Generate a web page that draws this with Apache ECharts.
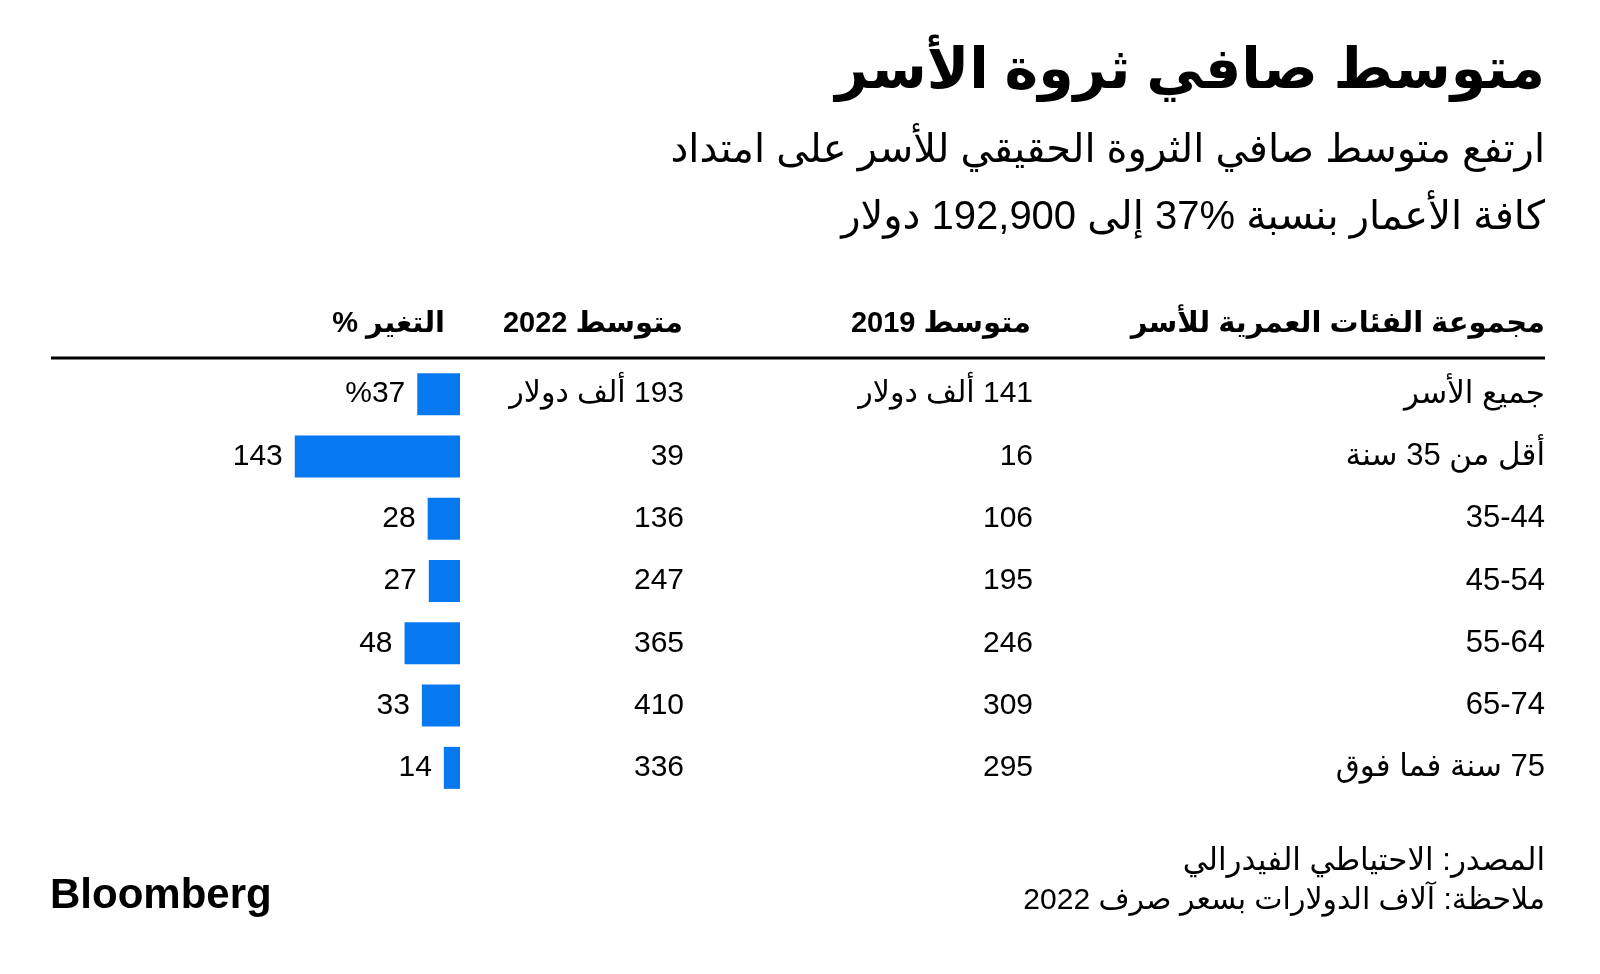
<!DOCTYPE html>
<html>
<head>
<meta charset="utf-8">
<script src="https://cdn.jsdelivr.net/npm/echarts@6/dist/echarts.min.js"></script>
<style>
html,body{margin:0;padding:0;background:#fff;}
#chart{width:1600px;height:974px;direction:rtl;}
</style>
</head>
<body>
<div id="chart"></div>
<script>
const title = 'متوسط صافي ثروة الأسر';
const subtitleLines = ['ارتفع متوسط صافي الثروة الحقيقي للأسر على امتداد', 'كافة الأعمار بنسبة %37 إلى 192,900 دولار'];
const headers = ['مجموعة الفئات العمرية للأسر', 'متوسط 2019', 'متوسط 2022', 'التغير %'];
const groups = ['جميع الأسر', 'أقل من 35 سنة', '35-44', '45-54', '55-64', '65-74', '75 سنة فما فوق'];
const median2019 = ['141 ألف دولار', '16', '106', '195', '246', '309', '295'];
const median2022 = ['193 ألف دولار', '39', '136', '247', '365', '410', '336'];
const pctChange = [37, 143, 28, 27, 48, 33, 14];
const footerLines = ['المصدر: الاحتياطي الفيدرالي', 'ملاحظة: آلاف الدولارات بسعر صرف 2022'];
const brand = 'Bloomberg';

const FONT = '"Liberation Sans", "DejaVu Sans", sans-serif';
const BLUE = '#0679f0';
const chart = echarts.init(document.getElementById('chart'), null, {renderer: 'canvas'});

const gridRight = 1140; // bar baseline at x=460
function colAxis(data, offset, size) {
  return {
    type: 'category', data: data, inverse: true, position: 'right', offset: offset,
    axisLine: {show: false}, axisTick: {show: false}, splitLine: {show: false},
    axisLabel: {show: true, margin: 0, align: 'right', fontSize: size, color: '#000', fontFamily: FONT}
  };
}
function txt(text, x, y, size, weight, align) {
  return {type: 'text', x: x, y: y, silent: true,
    style: {text: text, fontSize: size, fontWeight: weight || 'normal', fontFamily: FONT,
      fill: '#000', textAlign: align || 'right', textVerticalAlign: 'middle'}};
}
const headerX = [1545, 1031, 683, 445];
const graphics = [
  txt(title, 1545, 72, 57, 'bold'),
  txt(subtitleLines[0], 1545, 151, 40),
  txt(subtitleLines[1], 1545, 218, 40),
  txt(footerLines[0], 1545, 861, 31),
  txt(footerLines[1], 1545, 901, 30),
  txt(brand, 50, 896, 42, 'bold', 'left'),
  {type: 'line', silent: true, shape: {x1: 51, y1: 358, x2: 1545, y2: 358}, style: {stroke: '#000', lineWidth: 3}}
];
headers.forEach((h, i) => graphics.push(txt(h, headerX[i], 324, 29, 'bold')));

chart.setOption({
  backgroundColor: '#fff',
  animation: false,
  graphic: graphics,
  grid: {left: 289, right: gridRight, top: 363, height: 436, containLabel: false},
  xAxis: {type: 'value', inverse: true, min: 0, max: 148, show: false},
  yAxis: [
    {type: 'category', data: groups, inverse: true, position: 'right', show: false},
    colAxis(median2022, 684 - 460, 30),
    colAxis(median2019, 1033 - 460, 30),
    colAxis(groups, 1545 - 460, 31)
  ],
  series: [{
    type: 'bar', data: pctChange, barWidth: 42, yAxisIndex: 0,
    itemStyle: {color: BLUE},
    label: {show: true, position: 'left', distance: 12, fontSize: 30, color: '#000', fontFamily: FONT,
      formatter: p => p.dataIndex === 0 ? '%' + p.value : String(p.value)}
  }]
});
</script>
</body>
</html>
